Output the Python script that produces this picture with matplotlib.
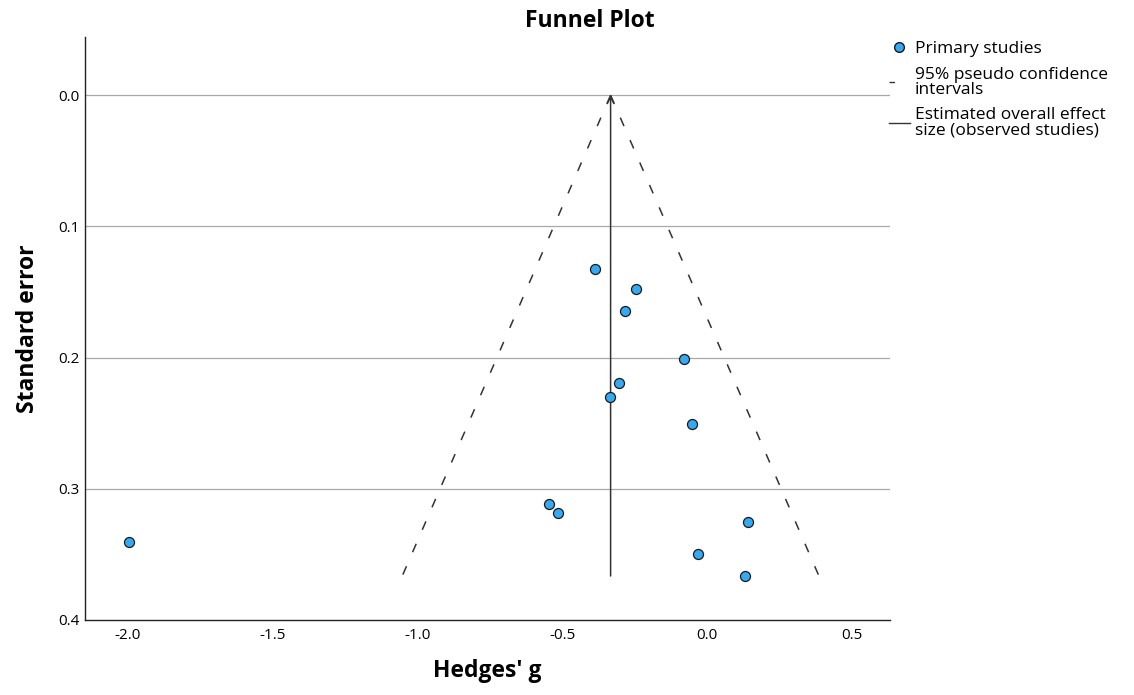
import numpy as np
import matplotlib.pyplot as plt
from matplotlib.lines import Line2D

plt.rcParams['font.family'] = ['Open Sans', 'DejaVu Sans']

# primary studies: Hedges' g and standard error
hedges_g = [-1.993, -0.386, -0.245, -0.284, -0.079, -0.304, -0.334,
            -0.053, -0.547, -0.514, 0.141, -0.033, 0.131]
std_err = [0.3405, 0.1322, 0.1475, 0.1643, 0.2009, 0.2196, 0.2300,
           0.2503, 0.3115, 0.3183, 0.3250, 0.3499, 0.3665]
overall = -0.333  # estimated overall effect size
xticks = [-2.0, -1.5, -1.0, -0.5, 0.0, 0.5]
yticks = [0.0, 0.1, 0.2, 0.3, 0.4]

fig = plt.figure(figsize=(11.34, 6.95), dpi=100)
ax = fig.add_axes([0.075, 0.108, 0.71, 0.839])

max_se = max(std_err)
for ty in yticks[:-1]:
    ax.axhline(ty, color='#a8a8a8', lw=0.9, zorder=0)

# pseudo confidence limits
ax.plot([overall, overall - 1.96 * max_se], [0, max_se], color='#333333',
        lw=1.1, dashes=(6, 10))
ax.plot([overall, overall + 1.96 * max_se], [0, max_se], color='#333333',
        lw=1.1, dashes=(6, 10))

# overall effect line with arrow
ax.annotate('', xy=(overall, 0.0), xytext=(overall, max_se),
            arrowprops=dict(arrowstyle='->', color='#333333', lw=1.1,
                            shrinkA=0, shrinkB=0, mutation_scale=12))

ax.scatter(hedges_g, std_err, s=52, color='#35a9f2', edgecolor='#1a1a1a',
           linewidth=0.9, zorder=3)

ax.set_xlim(-2.145, 0.631)
ax.set_ylim(0.4, -0.0445)
ax.set_xticks(xticks)
ax.set_xticklabels(['%.1f' % v for v in xticks])
ax.set_yticks(yticks)
ax.set_yticklabels(['%.1f' % v for v in yticks])
ax.tick_params(length=0, labelsize=11)
ax.tick_params(axis='x', pad=6)
ax.tick_params(axis='y', pad=4)
for s in ['top', 'right']:
    ax.spines[s].set_visible(False)
for s in ['left', 'bottom']:
    ax.spines[s].set_color('#222222')
    ax.spines[s].set_linewidth(1.0)

ax.set_xlabel("Hedges' g", fontsize=16.5, fontweight='bold', labelpad=11)
ax.set_ylabel('Standard error', fontsize=16.5, fontweight='bold', labelpad=13)
fig.text(590 / 1134, 1 - 21 / 695, 'Funnel Plot', ha='center', va='center',
         fontsize=16.5, fontweight='bold')

handles = [
    Line2D([], [], ls='none', marker='o', markersize=7,
           markerfacecolor='#35a9f2', markeredgecolor='#1a1a1a'),
    Line2D([], [], color='#333333', lw=1.0, dashes=(4, 20)),
    Line2D([], [], color='#333333', lw=1.0),
]
labels = ['Primary studies', '95% pseudo confidence\nintervals',
          'Estimated overall effect\nsize (observed studies)']
leg = fig.legend(handles, labels, loc='upper left',
                 bbox_to_anchor=(882 / 1134, 1 - 34 / 695), frameon=False,
                 fontsize=12.5, handlelength=1.2, handletextpad=0.3,
                 labelspacing=0.55, borderaxespad=0)
for t in leg.get_texts():
    t.set_linespacing(0.92)

fig.savefig('out.png', dpi=100)
